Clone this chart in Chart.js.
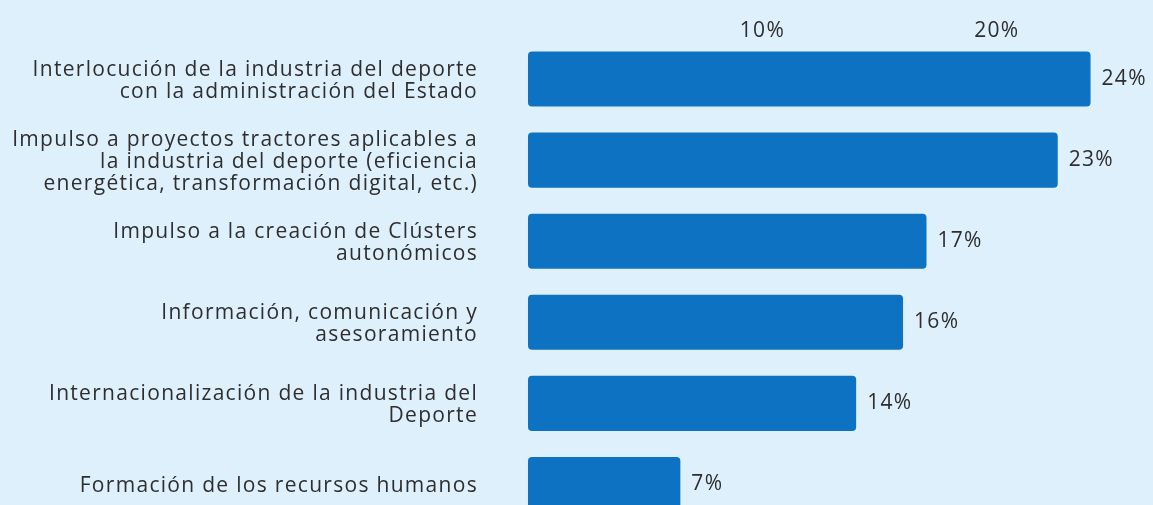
<!DOCTYPE html>
<html>
<head>
<meta charset="utf-8">
<script src="https://cdn.jsdelivr.net/npm/chart.js@4/dist/chart.umd.min.js"></script>
<style>
  html, body { margin: 0; padding: 0; background: #dff0fd; overflow: hidden; }
  #wrap { position: relative; width: 1153px; height: 525px; }
</style>
</head>
<body>
<div id="wrap"><canvas id="chart"></canvas></div>
<script>
// Datos
const categories = [
    ['Interlocución de la industria del deporte', 'con la administración del Estado'],
    ['Impulso a proyectos tractores aplicables a', 'la industria del deporte (eficiencia', 'energética, transformación digital, etc.)'],
    ['Impulso a la creación de Clústers', 'autonómicos'],
    ['Información, comunicación y', 'asesoramiento'],
    ['Internacionalización de la industria del', 'Deporte'],
    'Formación de los recursos humanos'
];
const values = [24, 22.6, 17, 16, 14, 6.5];
const tickLabels = [10, 20];

const fontFamily = '"Open Sans", sans-serif';
const textColor = '#2e2e2e';
const spacing = '1.3px';

// espaciado de letras (la fuente original es más ancha)
const letterSpacing = {
    id: 'letterSpacing',
    beforeUpdate(chart) { chart.ctx.letterSpacing = spacing; },
    beforeDraw(chart) { chart.ctx.letterSpacing = spacing; }
};

// Etiquetas de valor al final de cada barra
const valueLabels = {
    id: 'valueLabels',
    afterDatasetsDraw(chart) {
        const ctx = chart.ctx;
        const meta = chart.getDatasetMeta(0);
        ctx.save();
        ctx.font = '21px ' + fontFamily;
        ctx.fillStyle = textColor;
        ctx.textBaseline = 'middle';
        meta.data.forEach((bar, i) => {
            ctx.fillText(Math.round(values[i]) + '%', bar.x + 11, bar.y);
        });
        ctx.restore();
    }
};

const ctx = document.getElementById('chart').getContext('2d');
new Chart(ctx, {
    type: 'bar',
    data: {
        labels: categories,
        datasets: [{
            data: values,
            backgroundColor: '#0e72c2',
            borderRadius: 4,
            borderSkipped: false,
            categoryPercentage: 1,
            barPercentage: 0.68
        }]
    },
    options: {
        indexAxis: 'y',
        responsive: true,
        maintainAspectRatio: false,
        animation: false,
        layout: { padding: { right: 39, top: 0, bottom: 0, left: 0 } },
        plugins: {
            legend: { display: false },
            tooltip: { enabled: false }
        },
        scales: {
            x: {
                position: 'top',
                min: 0,
                max: 25,
                grid: { display: false, drawTicks: false },
                border: { display: false },
                afterFit(scale) {
                    scale.height = 38.5;
                    scale.paddingLeft = 0;
                    scale.paddingRight = 0;
                },
                ticks: {
                    stepSize: 10,
                    padding: -5,
                    color: textColor,
                    font: { family: fontFamily, size: 21 },
                    callback: v => tickLabels.includes(v) ? v + '%' : ''
                }
            },
            y: {
                grid: { display: false, drawTicks: false },
                border: { display: false },
                afterFit(scale) {
                    scale.width = 528;
                    scale.paddingTop = 0;
                    scale.paddingBottom = 0;
                },
                ticks: {
                    padding: 50,
                    labelOffset: 2,
                    color: textColor,
                    font: { family: fontFamily, size: 21, lineHeight: 1.05 }
                }
            }
        }
    },
    plugins: [letterSpacing, valueLabels]
});
</script>
</body>
</html>
